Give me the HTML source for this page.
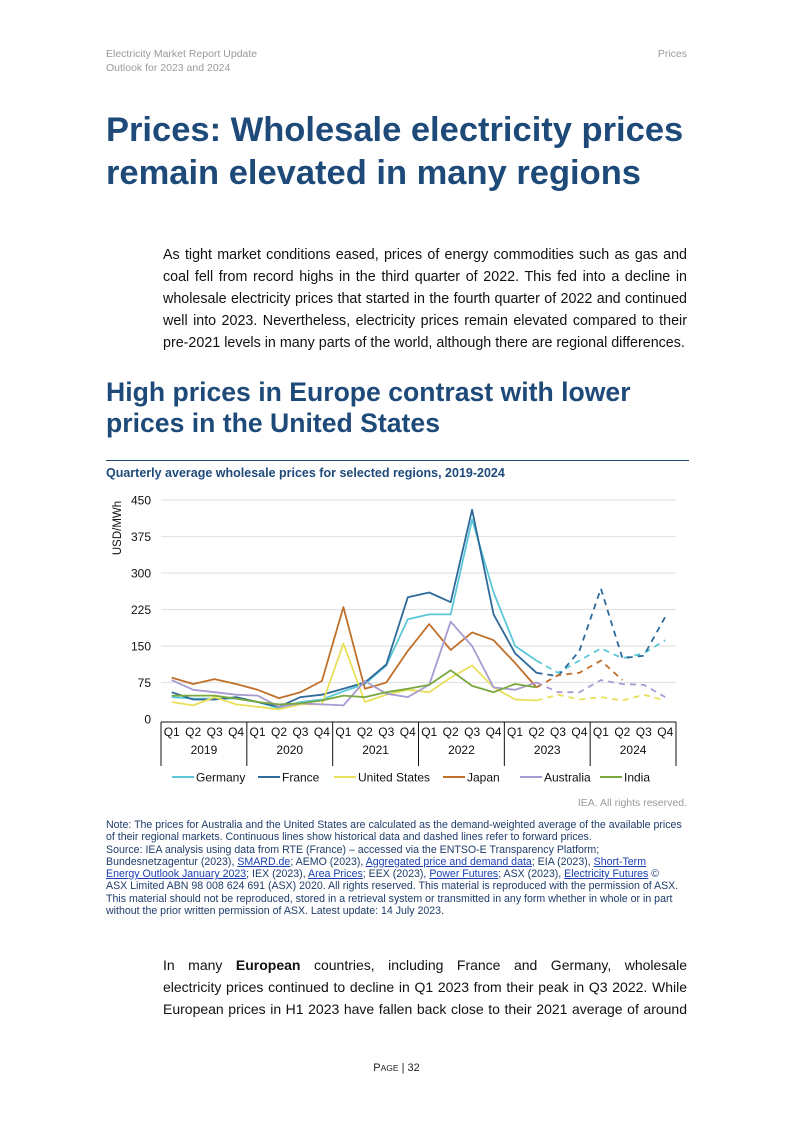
<!DOCTYPE html>
<html><head><meta charset="utf-8"><style>
body{margin:0;width:793px;height:1122px;background:#fff;position:relative;font-family:"Liberation Sans",sans-serif;overflow:hidden}
.a{position:absolute}
.hd{font-size:10.5px;color:#9a9a9a;line-height:14px}
h1{margin:0;font-size:34.5px;line-height:43px;color:#1e4a7a;font-weight:bold}
h2{margin:0;font-size:26.6px;line-height:31px;color:#1e4a7a;font-weight:bold}
.p{font-size:14.3px;line-height:22px;color:#111;text-align:justify}
.j{display:block;text-align:justify;text-align-last:justify}
.note{font-size:10.6px;line-height:12.3px;color:#1f3d6b;white-space:nowrap}
.note u{color:#1a3fb0}
</style></head><body>
<div class="a hd" style="left:106px;top:47px">Electricity Market Report Update<br>Outlook for 2023 and 2024</div>
<div class="a hd" style="right:106px;top:47px">Prices</div>
<h1 class="a" style="left:106px;top:109px">Prices: Wholesale electricity prices<br>remain elevated in many regions</h1>
<div class="a p" style="left:163px;top:244px;width:524px">As tight market conditions eased, prices of energy commodities such as gas and coal fell from record highs in the third quarter of 2022. This fed into a decline in wholesale electricity prices that started in the fourth quarter of 2022 and continued well into 2023. Nevertheless, electricity prices remain elevated compared to their pre-2021 levels in many parts of the world, although there are regional differences.</div>
<h2 class="a" style="left:106px;top:377px">High prices in Europe contrast with lower<br>prices in the United States</h2>
<div class="a" style="left:106px;top:460px;width:583px;height:1px;background:#1e4a7a"></div>
<div class="a" style="left:106px;top:466px;font-size:12.5px;font-weight:bold;color:#1e4a7a">Quarterly average wholesale prices for selected regions, 2019-2024</div>
<svg class="a" style="left:0;top:0" width="793" height="1122" id="chart"></svg>
<div class="a" style="right:106px;top:797px;font-size:10.5px;color:#9a9a9a">IEA. All rights reserved.</div>
<div class="a note" style="left:106px;top:819px">Note: The prices for Australia and the United States are calculated as the demand-weighted average of the available prices<br>of their regional markets. Continuous lines show historical data and dashed lines refer to forward prices.<br>Source: IEA analysis using data from RTE (France) – accessed via the ENTSO-E Transparency Platform;<br>Bundesnetzagentur (2023), <u>SMARD.de</u>; AEMO (2023), <u>Aggregated price and demand data</u>; EIA (2023), <u>Short-Term</u><br><u>Energy Outlook January 2023</u>; IEX (2023), <u>Area Prices</u>; EEX (2023), <u>Power Futures</u>; ASX (2023), <u>Electricity Futures</u> ©<br>ASX Limited ABN 98 008 624 691 (ASX) 2020. All rights reserved. This material is reproduced with the permission of ASX.<br>This material should not be reproduced, stored in a retrieval system or transmitted in any form whether in whole or in part<br>without the prior written permission of ASX. Latest update: 14 July 2023.</div>
<div class="a p" style="left:163px;top:954px;width:524px;font-size:14px"><span class="j">In many <b>European</b> countries, including France and Germany, wholesale</span><span class="j">electricity prices continued to decline in Q1 2023 from their peak in Q3 2022. While</span><span class="j">European prices in H1 2023 have fallen back close to their 2021 average of around</span></div>
<div class="a" style="left:0;width:793px;top:1062px;text-align:center;font-size:11px;color:#222"><span style="font-size:11px">P</span><span style="font-size:8.5px">AGE</span> | 32</div>
<script>
const quarters=["Q1","Q2","Q3","Q4"];
const years=["2019","2020","2021","2022","2023","2024"];
const yTicks=[0,75,150,225,300,375,450];
const seriesNames=["Germany","France","United States","Japan","Australia","India"];
const seriesColors=["#5bc8d8","#2e6a9a","#e8e05a","#c0702a","#a99bd2","#7aa83e"];
const germany=[45,42,42,42,35,22,35,40,57,72,110,205,215,215,410,260,150,120,95,120,145,125,135,162];
const france=[55,40,40,45,35,25,45,50,62,75,112,250,260,240,430,215,135,95,88,140,268,125,130,210];
const unitedStates=[35,28,45,30,25,20,30,30,155,35,50,60,55,85,110,65,40,38,50,40,45,38,50,38];
const japan=[85,72,82,72,60,43,55,78,230,62,75,140,195,142,178,162,115,65,90,95,120,80,null,null];
const australia=[80,60,55,50,48,25,32,30,28,78,52,45,70,200,150,65,60,75,55,55,80,72,70,45];
const india=[48,48,48,42,35,30,32,38,48,45,55,62,70,100,68,55,72,65,null,null,null,null,null,null];
const allSeries=[germany,france,unitedStates,japan,australia,india];
const lastHist=17;
const X0=161,X1=676,Y0=719,Y1=500;
const n=24;
const xs=i=>X0+(X1-X0)*(i+0.5)/n;
const ys=v=>Y0-(Y0-Y1)*v/450;
const svg=document.getElementById('chart');
const NS="http://www.w3.org/2000/svg";
function mk(t,a){const e=document.createElementNS(NS,t);for(const k in a)e.setAttribute(k,a[k]);svg.appendChild(e);return e;}
yTicks.forEach(t=>{
 if(t>0){const g=mk('line',{x1:X0,x2:X1,y1:ys(t),y2:ys(t),stroke:'#e3e3e3','stroke-width':1.2});
 
 }
 const l=mk('text',{x:151,y:ys(t)+4.5,'text-anchor':'end','font-size':12,fill:'#111','font-family':'Liberation Sans'});
 l.textContent=t;
 
 
});
const yt=mk('text',{transform:'translate(121,528) rotate(-90)','text-anchor':'middle','font-size':11.5,fill:'#111','font-family':'Liberation Sans'});
yt.textContent='USD/MWh';


const ax=mk('line',{x1:X0,x2:X1,y1:Y0+3,y2:Y0+3,stroke:'#111','stroke-width':1});


for(let y=0;y<=years.length;y++){
 const xx=X0+(X1-X0)*y*4/n;
 const d=mk('line',{x1:xx,x2:xx,y1:Y0+3,y2:Y0+47,stroke:'#111','stroke-width':1});
 
 
}
for(let i=0;i<n;i++){
 const q=mk('text',{x:xs(i),y:736,'text-anchor':'middle','font-size':12,fill:'#111','font-family':'Liberation Sans'});
 q.textContent=quarters[i%4];
 
 
}
years.forEach((yr,k)=>{
 const t=mk('text',{x:(xs(k*4)+xs(k*4+3))/2,y:754,'text-anchor':'middle','font-size':12,fill:'#111','font-family':'Liberation Sans'});
 t.textContent=yr;
 
 
});
function pathFor(arr,a,b){let d='',s=false;for(let i=a;i<=b;i++){if(arr[i]==null){s=false;continue;}d+=(s?'L':'M')+xs(i).toFixed(1)+' '+ys(arr[i]).toFixed(1);s=true;}return d;}
allSeries.forEach((arr,k)=>{
 const h=mk('path',{d:pathFor(arr,0,lastHist),fill:'none',stroke:seriesColors[k],'stroke-width':1.8,'stroke-linejoin':'round'});
 
 
 const fd=pathFor(arr,lastHist,n-1);
 if(fd.indexOf('L')>0){const f=mk('path',{d:fd,fill:'none',stroke:seriesColors[k],'stroke-width':1.8,'stroke-dasharray':'6 5'});
 
 }
});
const lx=[172,258,334,443,520,600];
seriesNames.forEach((nm,k)=>{
 const l=mk('line',{x1:lx[k],x2:lx[k]+22,y1:777,y2:777,stroke:seriesColors[k],'stroke-width':2});
 
 
 const t=mk('text',{x:lx[k]+24,y:781.5,'font-size':12,fill:'#111','font-family':'Liberation Sans'});
 t.textContent=nm;
 
 
});
</script>
</body></html>
